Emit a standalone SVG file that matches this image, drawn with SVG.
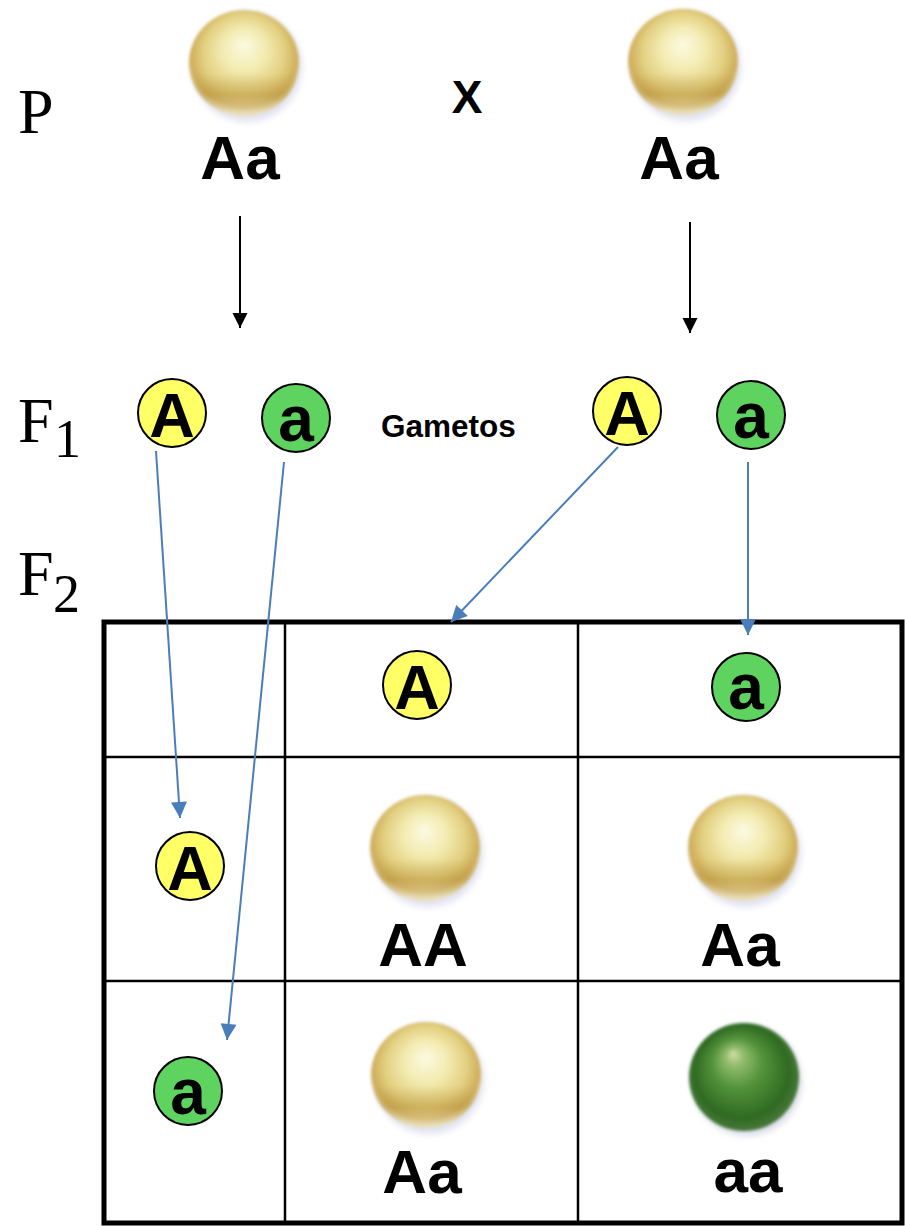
<svg xmlns="http://www.w3.org/2000/svg" width="905" height="1226" viewBox="0 0 905 1226">
<style>
.serif{font-family:"Liberation Serif","Times New Roman",serif;font-size:64px;fill:#000}
.sub{font-family:"Liberation Serif","Times New Roman",serif;font-size:54px;fill:#000}
.geno{font-family:"Liberation Sans",Arial,sans-serif;font-weight:bold;font-size:62px;fill:#000;text-anchor:middle}
.gl{font-family:"Liberation Sans",Arial,sans-serif;font-weight:bold;font-size:63px;fill:#000;text-anchor:middle}
.gs{font-family:"Liberation Sans",Arial,sans-serif;font-weight:bold;font-size:64px;fill:#000;text-anchor:middle}
.lbl{font-family:"Liberation Sans",Arial,sans-serif;font-weight:bold;font-size:31.5px;fill:#000}
.cy{fill:#ffff66;stroke:#000;stroke-width:2}
.cg{fill:#5fd35f;stroke:#000;stroke-width:2}
.blue{stroke:#4a7ebb;stroke-width:2;fill:none}
.blk{stroke:#000;stroke-width:2;fill:none}
.thick{stroke:#000;stroke-width:5;fill:none}
.thin{stroke:#000;stroke-width:2.5;fill:none}
</style>
<defs>
<radialGradient id="gY" cx="0.5" cy="0.45" r="0.55" fx="0.5" fy="0.33">
<stop offset="0" stop-color="#fcfae2"/>
<stop offset="0.35" stop-color="#f3ecb2"/>
<stop offset="0.68" stop-color="#e2cf80"/>
<stop offset="0.88" stop-color="#cfae5a"/>
<stop offset="1" stop-color="#e4dcb4"/>
</radialGradient>
<linearGradient id="bandY" x1="0" y1="0" x2="0" y2="1">
<stop offset="0" stop-color="#b08a30" stop-opacity="0"/>
<stop offset="0.6" stop-color="#b08a30" stop-opacity="0"/>
<stop offset="0.8" stop-color="#b08a30" stop-opacity="0.4"/>
<stop offset="0.96" stop-color="#f0ead0" stop-opacity="0.5"/>
</linearGradient>
<radialGradient id="gG" cx="0.5" cy="0.5" r="0.55" fx="0.4" fy="0.28">
<stop offset="0" stop-color="#cfe0a8"/>
<stop offset="0.15" stop-color="#92bc6c"/>
<stop offset="0.42" stop-color="#52933a"/>
<stop offset="0.78" stop-color="#2f6a22"/>
<stop offset="1" stop-color="#527f44"/>
</radialGradient>
<filter id="soft" x="-20%" y="-20%" width="140%" height="140%">
<feGaussianBlur stdDeviation="1.6"/>
</filter>
<filter id="halo" x="-30%" y="-30%" width="160%" height="160%">
<feGaussianBlur stdDeviation="3"/>
</filter>
<g id="peaY">
<circle cx="3" cy="4" r="55" fill="#e2e3f0" filter="url(#halo)"/>
<g filter="url(#soft)">
<ellipse cx="0" cy="0" rx="55" ry="53" fill="url(#gY)"/>
<ellipse cx="0" cy="0" rx="55" ry="53" fill="url(#bandY)"/>
</g>
</g>
<g id="peaG">
<circle cx="3" cy="4" r="55" fill="#dcdeea" filter="url(#halo)"/>
<ellipse cx="0" cy="0" rx="55" ry="54" fill="url(#gG)" filter="url(#soft)"/>
</g>
<marker id="ab" viewBox="0 0 10 10" refX="10" refY="5" markerWidth="8.5" markerHeight="8" markerUnits="strokeWidth" orient="auto">
<path d="M0,0 L10,5 L0,10 z" fill="#4a7ebb"/>
</marker>
<marker id="ak" viewBox="0 0 10 10" refX="10" refY="5" markerWidth="7.5" markerHeight="8.5" markerUnits="strokeWidth" orient="auto">
<path d="M0,0 L10,5 L0,10 z" fill="#000"/>
</marker>
</defs>
<rect width="905" height="1226" fill="#fff"/>

<g id="labels">
<text class="serif" x="18" y="133">P</text>
<text class="serif" x="18" y="442">F</text><text class="sub" x="54" y="457">1</text>
<text class="serif" x="18" y="595">F</text><text class="sub" x="53" y="612">2</text>
<text class="lbl" x="381" y="437">Gametos</text>
<text id="cross" class="geno" x="467" y="113" style="font-size:46px">X</text>
</g>

<g id="parent1">
<use href="#peaY" x="244" y="63"/>
<text class="geno" x="240" y="179">Aa</text>
</g>
<g id="parent2">
<use href="#peaY" x="683" y="62"/>
<text class="geno" x="679" y="179">Aa</text>
</g>

<g id="gamete-p1-A"><circle class="cy" cx="172" cy="413" r="34"/><text class="gl" x="172" y="437">A</text></g>
<g id="gamete-p1-a"><circle class="cg" cx="296" cy="418" r="34"/><text class="gs" x="296" y="441">a</text></g>
<g id="gamete-p2-A"><circle class="cy" cx="627" cy="411" r="34"/><text class="gl" x="627" y="435">A</text></g>
<g id="gamete-p2-a"><circle class="cg" cx="751" cy="415" r="34"/><text class="gs" x="751" y="438">a</text></g>

<g id="table">
<rect class="thick" x="104" y="622" width="798" height="601"/>
<line class="thin" x1="285" y1="622" x2="285" y2="1223"/>
<line class="thin" x1="578" y1="622" x2="578" y2="1223"/>
<line class="thin" x1="104" y1="757" x2="902" y2="757"/>
<line class="thin" x1="104" y1="981" x2="902" y2="981"/>
</g>

<g id="head-A"><circle class="cy" cx="417" cy="685" r="34"/><text class="gl" x="417" y="709">A</text></g>
<g id="head-a"><circle class="cg" cx="746" cy="687" r="34"/><text class="gs" x="746" y="709">a</text></g>
<g id="row-A"><circle class="cy" cx="190" cy="866" r="34"/><text class="gl" x="190" y="890">A</text></g>
<g id="row-a"><circle class="cg" cx="188" cy="1091" r="34"/><text class="gs" x="188" y="1114">a</text></g>

<g id="cell-AA"><use href="#peaY" x="425" y="848"/><text class="geno" x="423" y="966">AA</text></g>
<g id="cell-Aa1"><use href="#peaY" x="743" y="848"/><text class="geno" x="740" y="966">Aa</text></g>
<g id="cell-Aa2"><use href="#peaY" x="426" y="1075"/><text class="geno" x="422" y="1193">Aa</text></g>
<g id="cell-aa"><use href="#peaG" x="744" y="1077"/><text class="geno" x="748" y="1192">aa</text></g>

<g id="connectors">
<line class="blk" x1="240" y1="216" x2="240" y2="328" marker-end="url(#ak)"/>
<line class="blk" x1="690" y1="222" x2="690" y2="333" marker-end="url(#ak)"/>
<line class="blue" x1="156" y1="451" x2="180" y2="818" marker-end="url(#ab)"/>
<line class="blue" x1="284" y1="462" x2="227" y2="1040" marker-end="url(#ab)"/>
<line class="blue" x1="618" y1="447" x2="451" y2="622" marker-end="url(#ab)"/>
<line class="blue" x1="748" y1="462" x2="748" y2="635" marker-end="url(#ab)"/>
</g>
</svg>
